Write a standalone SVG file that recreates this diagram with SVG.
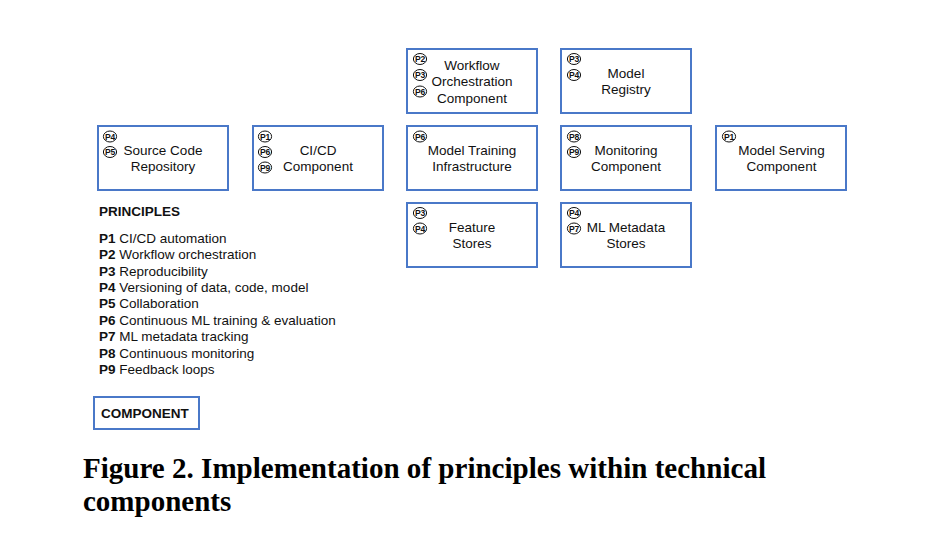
<svg xmlns="http://www.w3.org/2000/svg" width="929" height="551" viewBox="0 0 929 551">
<style>
.box{fill:#fff;stroke:#4a78c8;stroke-width:2}
.lbl{font-family:"Liberation Sans",Arial,sans-serif;font-size:13.5px;fill:#111;text-anchor:middle}
.bdg ellipse{fill:#fff;stroke:#111;stroke-width:1}
.bdg text{font-family:"Liberation Sans",Arial,sans-serif;font-size:8.6px;font-weight:bold;fill:#111;text-anchor:middle;letter-spacing:-0.2px}
.leg{font-family:"Liberation Sans",Arial,sans-serif;font-size:13.5px;fill:#111}
.b{font-weight:bold}
.cap{font-family:"Liberation Serif","Times New Roman",serif;font-size:29px;font-weight:bold;fill:#000}
</style>
<rect width="929" height="551" fill="#fff"/>

<g id="connectors"></g>

<g id="source-code-repository">
<rect class="box" x="98" y="126" width="130" height="64"/>
<g class="bdg"><ellipse cx="110" cy="136.5" rx="6.6" ry="5.5"/><text x="110" y="139.5">P4</text></g>
<g class="bdg"><ellipse cx="110" cy="152" rx="6.6" ry="5.5"/><text x="110" y="155">P5</text></g>
<text class="lbl" x="163" y="155">Source Code</text>
<text class="lbl" x="163" y="171">Repository</text>
</g>

<g id="cicd-component">
<rect class="box" x="253" y="126" width="130" height="64"/>
<g class="bdg"><ellipse cx="265" cy="136.5" rx="6.6" ry="5.5"/><text x="265" y="139.5">P1</text></g>
<g class="bdg"><ellipse cx="265" cy="152" rx="6.6" ry="5.5"/><text x="265" y="155">P6</text></g>
<g class="bdg"><ellipse cx="265" cy="167.5" rx="6.6" ry="5.5"/><text x="265" y="170.5">P9</text></g>
<text class="lbl" x="318" y="155">CI/CD</text>
<text class="lbl" x="318" y="171">Component</text>
</g>

<g id="workflow-orchestration-component">
<rect class="box" x="407" y="49" width="130" height="64"/>
<g class="bdg"><ellipse cx="420" cy="59" rx="6.6" ry="5.5"/><text x="420" y="62">P2</text></g>
<g class="bdg"><ellipse cx="420" cy="75" rx="6.6" ry="5.5"/><text x="420" y="78">P3</text></g>
<g class="bdg"><ellipse cx="420" cy="91.5" rx="6.6" ry="5.5"/><text x="420" y="94.5">P6</text></g>
<text class="lbl" x="472" y="70">Workflow</text>
<text class="lbl" x="472" y="86">Orchestration</text>
<text class="lbl" x="472" y="102.5">Component</text>
</g>

<g id="model-registry">
<rect class="box" x="561" y="49" width="130" height="64"/>
<g class="bdg"><ellipse cx="574" cy="59" rx="6.6" ry="5.5"/><text x="574" y="62">P3</text></g>
<g class="bdg"><ellipse cx="574" cy="75" rx="6.6" ry="5.5"/><text x="574" y="78">P4</text></g>
<text class="lbl" x="626" y="78">Model</text>
<text class="lbl" x="626" y="94">Registry</text>
</g>

<g id="model-training-infrastructure">
<rect class="box" x="407" y="126" width="130" height="64"/>
<g class="bdg"><ellipse cx="420" cy="136.5" rx="6.6" ry="5.5"/><text x="420" y="139.5">P6</text></g>
<text class="lbl" x="472" y="155">Model Training</text>
<text class="lbl" x="472" y="171">Infrastructure</text>
</g>

<g id="monitoring-component">
<rect class="box" x="561" y="126" width="130" height="64"/>
<g class="bdg"><ellipse cx="574" cy="136.5" rx="6.6" ry="5.5"/><text x="574" y="139.5">P8</text></g>
<g class="bdg"><ellipse cx="574" cy="152" rx="6.6" ry="5.5"/><text x="574" y="155">P9</text></g>
<text class="lbl" x="626" y="155">Monitoring</text>
<text class="lbl" x="626" y="171">Component</text>
</g>

<g id="model-serving-component">
<rect class="box" x="716" y="126" width="130" height="64"/>
<g class="bdg"><ellipse cx="729" cy="136.5" rx="6.6" ry="5.5"/><text x="729" y="139.5">P1</text></g>
<text class="lbl" x="781.5" y="155">Model Serving</text>
<text class="lbl" x="781.5" y="171">Component</text>
</g>

<g id="feature-stores">
<rect class="box" x="407" y="203" width="130" height="64"/>
<g class="bdg"><ellipse cx="420" cy="213" rx="6.6" ry="5.5"/><text x="420" y="216">P3</text></g>
<g class="bdg"><ellipse cx="420" cy="228.5" rx="6.6" ry="5.5"/><text x="420" y="231.5">P4</text></g>
<text class="lbl" x="472" y="232">Feature</text>
<text class="lbl" x="472" y="247.5">Stores</text>
</g>

<g id="ml-metadata-stores">
<rect class="box" x="561" y="203" width="130" height="64"/>
<g class="bdg"><ellipse cx="574" cy="213" rx="6.6" ry="5.5"/><text x="574" y="216">P4</text></g>
<g class="bdg"><ellipse cx="574" cy="228.5" rx="6.6" ry="5.5"/><text x="574" y="231.5">P7</text></g>
<text class="lbl" x="626" y="232">ML Metadata</text>
<text class="lbl" x="626" y="247.5">Stores</text>
</g>

<g id="legend">
<text class="leg b" x="99" y="216">PRINCIPLES</text>
<text class="leg" x="99" y="242.7"><tspan class="b">P1</tspan> CI/CD automation</text>
<text class="leg" x="99" y="259.1"><tspan class="b">P2</tspan> Workflow orchestration</text>
<text class="leg" x="99" y="275.5"><tspan class="b">P3</tspan> Reproducibility</text>
<text class="leg" x="99" y="291.9"><tspan class="b">P4</tspan> Versioning of data, code, model</text>
<text class="leg" x="99" y="308.3"><tspan class="b">P5</tspan> Collaboration</text>
<text class="leg" x="99" y="324.7"><tspan class="b">P6</tspan> Continuous ML training &amp; evaluation</text>
<text class="leg" x="99" y="341.1"><tspan class="b">P7</tspan> ML metadata tracking</text>
<text class="leg" x="99" y="357.5"><tspan class="b">P8</tspan> Continuous monitoring</text>
<text class="leg" x="99" y="373.9"><tspan class="b">P9</tspan> Feedback loops</text>
</g>

<g id="component-legend">
<rect class="box" x="94" y="397" width="105" height="32"/>
<text class="leg b" x="101" y="418">COMPONENT</text>
</g>

<g id="caption">
<text class="cap" x="83" y="478" textLength="683" lengthAdjust="spacingAndGlyphs">Figure 2. Implementation of principles within technical</text>
<text class="cap" x="83" y="510.5">components</text>
</g>
</svg>
